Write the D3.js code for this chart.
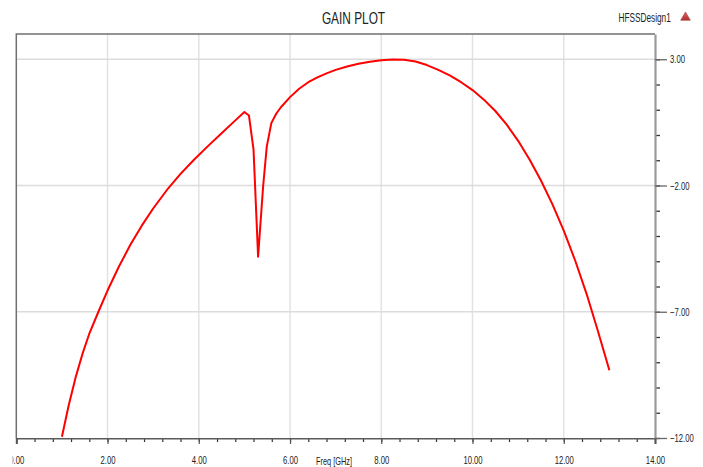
<!DOCTYPE html>
<html>
<head>
<meta charset="utf-8">
<script src="https://cdn.jsdelivr.net/npm/d3@7"></script>
<style>
  html, body { margin: 0; padding: 0; background: #ffffff; }
  svg { display: block; }
  text { font-family: "Liberation Sans", Arial, sans-serif; fill: #222; }
</style>
</head>
<body>
<svg id="chart" width="703" height="467"></svg>
<script>
// ---- data ----
const freq = [1.00, 1.15, 1.30, 1.45, 1.60, 1.80, 2.00, 2.25, 2.50, 2.75, 3.00, 3.33, 3.60, 3.90, 4.20, 4.50, 4.76, 5.00,
  5.10, 5.20, 5.30, 5.41, 5.49, 5.59, 5.70, 5.80, 6.00, 6.20, 6.40, 6.60, 6.80, 7.00, 7.25, 7.50, 7.75, 8.00, 8.25, 8.50,
  8.75, 9.00, 9.25, 9.50, 9.75, 10.00, 10.25, 10.50, 10.75, 11.00, 11.25, 11.50, 11.75, 12.00, 12.25, 12.50, 12.75, 13.00];
const gain = [-11.95, -10.69, -9.60, -8.67, -7.87, -7.00, -6.16, -5.21, -4.35, -3.59, -2.91, -2.11, -1.54, -0.97, -0.44, 0.07, 0.51, 0.91,
  0.77, -0.58, -4.82, -2.04, -0.46, 0.47, 0.85, 1.10, 1.50, 1.83, 2.09, 2.28, 2.44, 2.58, 2.71, 2.82, 2.90, 2.96, 2.99, 2.98,
  2.91, 2.77, 2.58, 2.36, 2.09, 1.78, 1.40, 0.95, 0.41, -0.23, -0.97, -1.80, -2.74, -3.79, -4.97, -6.29, -7.77, -9.32];
const xTicks = [0, 2, 4, 6, 8, 10, 12, 14];
const xMinorTicks = d3.range(0, 14.01, 0.4);
const yTicks = [3, -2, -7, -12];
const yMinorTicks = d3.range(-12, 3.01, 1);
const title = "GAIN PLOT";
const legendLabel = "HFSSDesign1";
const xLabel = "Freq [GHz]";

// ---- layout ----
const svg = d3.select("#chart");
const pL = 16.3, pR = 655, pT = 34, pB = 438;
const x = d3.scaleLinear().domain([0, 14]).range([pL, pR]);
const y = d3.scaleLinear().domain([-12, 4]).range([pB, pT]);
const narrow = 0.7;

function squeeze(sel, k) {
  sel.each(function () {
    const w = this.getComputedTextLength();
    this.setAttribute("textLength", (w * k).toFixed(2));
    this.setAttribute("lengthAdjust", "spacingAndGlyphs");
  });
}

// gridlines
svg.append("g").selectAll("line").data(xTicks.filter(d => d > 0 && d < 14)).join("line")
  .attr("x1", d => x(d)).attr("x2", d => x(d)).attr("y1", pT).attr("y2", pB)
  .attr("stroke", "#e2e2e2").attr("stroke-width", 1.5);
svg.append("g").selectAll("line").data(yTicks.filter(d => d > -12)).join("line")
  .attr("x1", pL).attr("x2", pR).attr("y1", d => y(d)).attr("y2", d => y(d))
  .attr("stroke", "#dcdcdc").attr("stroke-width", 1.5);

// frame top & left
svg.append("path")
  .attr("d", `M${pL},${pB} V${pT} H${pR}`)
  .attr("fill", "none").attr("stroke", "#707070").attr("stroke-width", 1.5);

// bottom axis: minor ticks
const xMinor = svg.append("g").attr("transform", `translate(0,${pB})`)
  .call(d3.axisBottom(x).tickValues(xMinorTicks).tickSize(4).tickFormat(""));
xMinor.select(".domain").remove();
xMinor.selectAll("line").attr("stroke", "#333").attr("stroke-width", 1.2);

// bottom axis: major ticks + labels
const xClip = svg.append("clipPath").attr("id", "xclip");
xClip.append("rect").attr("x", 12.5).attr("y", 0).attr("width", 703).attr("height", 467);
const xAxis = svg.append("g").attr("transform", `translate(0,${pB})`)
  .attr("clip-path", "url(#xclip)")
  .call(d3.axisBottom(x).tickValues(xTicks).tickSize(6).tickPadding(12).tickFormat(d3.format(".2f")));
xAxis.select(".domain").attr("stroke", "#5a5a5a").attr("stroke-width", 2);
xAxis.selectAll("line").attr("stroke", "#555").attr("stroke-width", 1.2);
xAxis.selectAll("text").attr("font-size", 11).attr("fill", "#222")
  .style("font-family", '"Liberation Sans", Arial, sans-serif').call(squeeze, narrow);

// right axis: minor ticks
const yMinor = svg.append("g").attr("transform", `translate(${pR},0)`)
  .call(d3.axisRight(y).tickValues(yMinorTicks).tickSize(5).tickFormat(""));
yMinor.select(".domain").remove();
yMinor.selectAll("line").attr("stroke", "#333").attr("stroke-width", 1.3);

// right axis: major ticks + labels
const yAxis = svg.append("g").attr("transform", `translate(${pR},0)`)
  .call(d3.axisRight(y).tickValues(yTicks).tickSize(12).tickPadding(3).tickFormat(d3.format(".2f")).tickSizeOuter(0));
yAxis.select(".domain").attr("stroke", "#9a9a9a").attr("stroke-width", 2.2);
yAxis.selectAll("line").attr("stroke", "#666").attr("stroke-width", 1.3);
yAxis.selectAll("text").attr("font-size", 11).attr("fill", "#222")
  .style("font-family", '"Liberation Sans", Arial, sans-serif').call(squeeze, narrow);

// curve
const pts = freq.map((f, i) => [f, gain[i]]);
svg.append("path").datum(pts)
  .attr("d", d3.line().x(d => x(d[0])).y(d => y(d[1])).curve(d3.curveLinear))
  .attr("fill", "none").attr("stroke", "#ff0000").attr("stroke-width", 2)
  .attr("stroke-linejoin", "round");

// title
svg.append("text").attr("x", 353.5).attr("y", 23.5).attr("text-anchor", "middle")
  .attr("font-size", 16).text(title).call(squeeze, 0.74);

// legend
svg.append("text").attr("x", 618.5).attr("y", 21.7).attr("font-size", 12.5)
  .text(legendLabel).call(squeeze, 0.66);
const tri = d3.symbol().type(d3.symbolTriangle).size(40);
const g = svg.append("defs").append("linearGradient").attr("id", "trig")
  .attr("x1", 0).attr("y1", 0).attr("x2", 0).attr("y2", 1);
g.append("stop").attr("offset", "0%").attr("stop-color", "#e06060");
g.append("stop").attr("offset", "100%").attr("stop-color", "#b03030");
svg.append("path").attr("d", tri).attr("transform", "translate(685.5,17.5)")
  .attr("fill", "url(#trig)").attr("stroke", "#a04040").attr("stroke-width", 0.6);

// x label
svg.append("text").attr("x", 334).attr("y", 465).attr("text-anchor", "middle")
  .attr("font-size", 10.5).text(xLabel).call(squeeze, 0.7);
</script>
</body>
</html>
